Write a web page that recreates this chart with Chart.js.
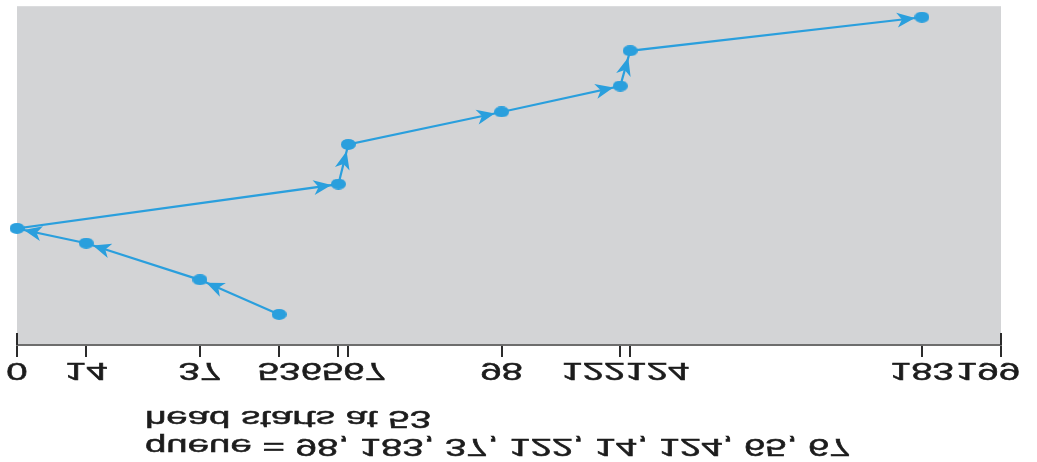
<!DOCTYPE html>
<html>
<head>
<meta charset="utf-8">
<script src="https://cdn.jsdelivr.net/npm/chart.js@4.4.1/dist/chart.umd.min.js"></script>
<style>
    html, body { margin: 0; padding: 0; background: #fff; }
    /* the reference picture is the textbook figure turned over top to bottom */
    #wrap { width: 1037px; height: 462px; transform: scaleY(-1); }
</style>
</head>
<body>
<div id="wrap"><canvas id="scanChart"></canvas></div>
<script>
// Dados: cilindros marcados no eixo e o caminho da cabeça (SCAN)
const trackTicks = [0, 14, 37, 53, 65, 67, 98, 122, 124, 183, 199];
const headPath = [53, 37, 14, 0, 65, 67, 98, 122, 124, 183];
const pathStep = [9.1, 19.4, 30.3, 34.7, 47.9, 59.7, 69.4, 77.1, 87.6, 97.6];
const requestQueue = [98, 183, 37, 122, 14, 124, 65, 67];
const headStart = 53;

const lineColor = '#2a9fdd';
const textColor = '#1c1c1c';
const plotGray = '#d3d4d6';
const SX = 1.6; // texto esticado na horizontal como na figura
const textFont = '24px "Liberation Sans", Arial, sans-serif';

// marcador elíptico
const dot = document.createElement('canvas');
dot.width = 15;
dot.height = 11;
const dctx = dot.getContext('2d');
dctx.fillStyle = lineColor;
dctx.beginPath();
dctx.ellipse(7.5, 5.5, 7.5, 5.5, 0, 0, Math.PI * 2);
dctx.fill();

function drawWide(ctx, text, x, y, align) {
    ctx.save();
    ctx.translate(x, y);
    ctx.scale(SX, 1);
    ctx.textAlign = align;
    ctx.fillText(text, 0, 0);
    ctx.lineWidth = 0.5;
    ctx.strokeStyle = textColor;
    ctx.strokeText(text, 0, 0);
    ctx.restore();
}

const backgroundPlugin = {
    id: 'plotBackground',
    beforeDraw(chart) {
        const { ctx, chartArea: a } = chart;
        ctx.save();
        ctx.fillStyle = plotGray;
        ctx.fillRect(a.left, a.top, a.right - a.left, a.bottom - a.top + 3);
        ctx.restore();
    }
};

const arrowPlugin = {
    id: 'arrowHeads',
    afterDatasetsDraw(chart) {
        const ctx = chart.ctx;
        const pts = chart.getDatasetMeta(0).data;
        ctx.save();
        ctx.fillStyle = lineColor;
        for (let i = 1; i < pts.length; i++) {
            const a = pts[i - 1], b = pts[i];
            const ang = Math.atan2(b.y - a.y, b.x - a.x);
            ctx.save();
            ctx.translate(b.x, b.y);
            ctx.rotate(ang);
            ctx.beginPath();
            ctx.moveTo(-7, 0);
            ctx.lineTo(-25, -7.5);
            ctx.lineTo(-20, 0);
            ctx.lineTo(-25, 7.5);
            ctx.closePath();
            ctx.fill();
            ctx.restore();
        }
        ctx.restore();
    }
};

const labelPlugin = {
    id: 'axisLabels',
    afterDraw(chart) {
        const { ctx, chartArea: area } = chart;
        const xs = chart.scales.x;
        ctx.save();
        ctx.font = textFont;
        ctx.fillStyle = textColor;
        ctx.textBaseline = 'alphabetic';

        // end ticks also cross the axis
        ctx.strokeStyle = '#2b2b2b';
        ctx.lineWidth = 2;
        [xs.min, xs.max].forEach(v => {
            const px = xs.getPixelForValue(v);
            ctx.beginPath();
            ctx.moveTo(px, area.top);
            ctx.lineTo(px, area.top + 12);
            ctx.stroke();
        });

        // tick labels, packed side by side where they would collide
        let groups = trackTicks.map(v => ({
            texts: [String(v)],
            widths: [ctx.measureText(String(v)).width * SX],
            want: [xs.getPixelForValue(v)]
        }));
        const width = g => g.widths.reduce((s, w) => s + w, 0);
        const left = g => {
            const c = g.want.reduce((s, p) => s + p, 0) / g.want.length;
            return Math.min(Math.max(c - width(g) / 2, 4), chart.width - 17 - width(g));
        };
        let merged = true;
        while (merged) {
            merged = false;
            for (let i = 0; i < groups.length - 1; i++) {
                const a = groups[i], b = groups[i + 1];
                if (left(a) + width(a) > left(b) + 0.5) {
                    groups.splice(i, 2, {
                        texts: a.texts.concat(b.texts),
                        widths: a.widths.concat(b.widths),
                        want: a.want.concat(b.want)
                    });
                    merged = true;
                    break;
                }
            }
        }
        const tickBase = area.top - 18;
        groups.forEach(g => {
            let x = left(g);
            g.texts.forEach((t, k) => {
                drawWide(ctx, t, x + g.widths[k] / 2, tickBase, 'center');
                x += g.widths[k];
            });
        });

        // legenda da fila
        const capX = area.left + 128;
        drawWide(ctx, 'head starts at ' + headStart, capX, area.top - 66, 'left');
        drawWide(ctx, 'queue = ' + requestQueue.join(', '), capX, area.top - 94, 'left');
        ctx.restore();
    }
};

const scanData = {
    datasets: [{
        data: headPath.map((t, i) => ({ x: t, y: pathStep[i] })),
        showLine: true,
        borderColor: lineColor,
        borderWidth: 2.2,
        pointStyle: dot,
        pointRadius: 7,
        clip: false
    }]
};

new Chart(document.getElementById('scanChart').getContext('2d'), {
    type: 'scatter',
    data: scanData,
    options: {
        responsive: true,
        maintainAspectRatio: false,
        animation: false,
        layout: { padding: { top: 105, bottom: 5, left: 17, right: 36 } },
        plugins: { legend: { display: false }, tooltip: { enabled: false } },
        scales: {
            x: {
                type: 'linear',
                position: 'top',
                min: 0,
                max: 199,
                afterBuildTicks: s => { s.ticks = trackTicks.map(v => ({ value: v })); },
                ticks: { display: false },
                grid: { drawOnChartArea: false, drawTicks: true, tickLength: 12, color: '#2b2b2b', lineWidth: 2 },
                border: { display: true, color: '#6d6d6d', width: 2 }
            },
            y: {
                type: 'linear',
                reverse: true,
                min: 0,
                max: 100,
                display: false
            }
        }
    },
    plugins: [backgroundPlugin, arrowPlugin, labelPlugin]
});
</script>
</body>
</html>
